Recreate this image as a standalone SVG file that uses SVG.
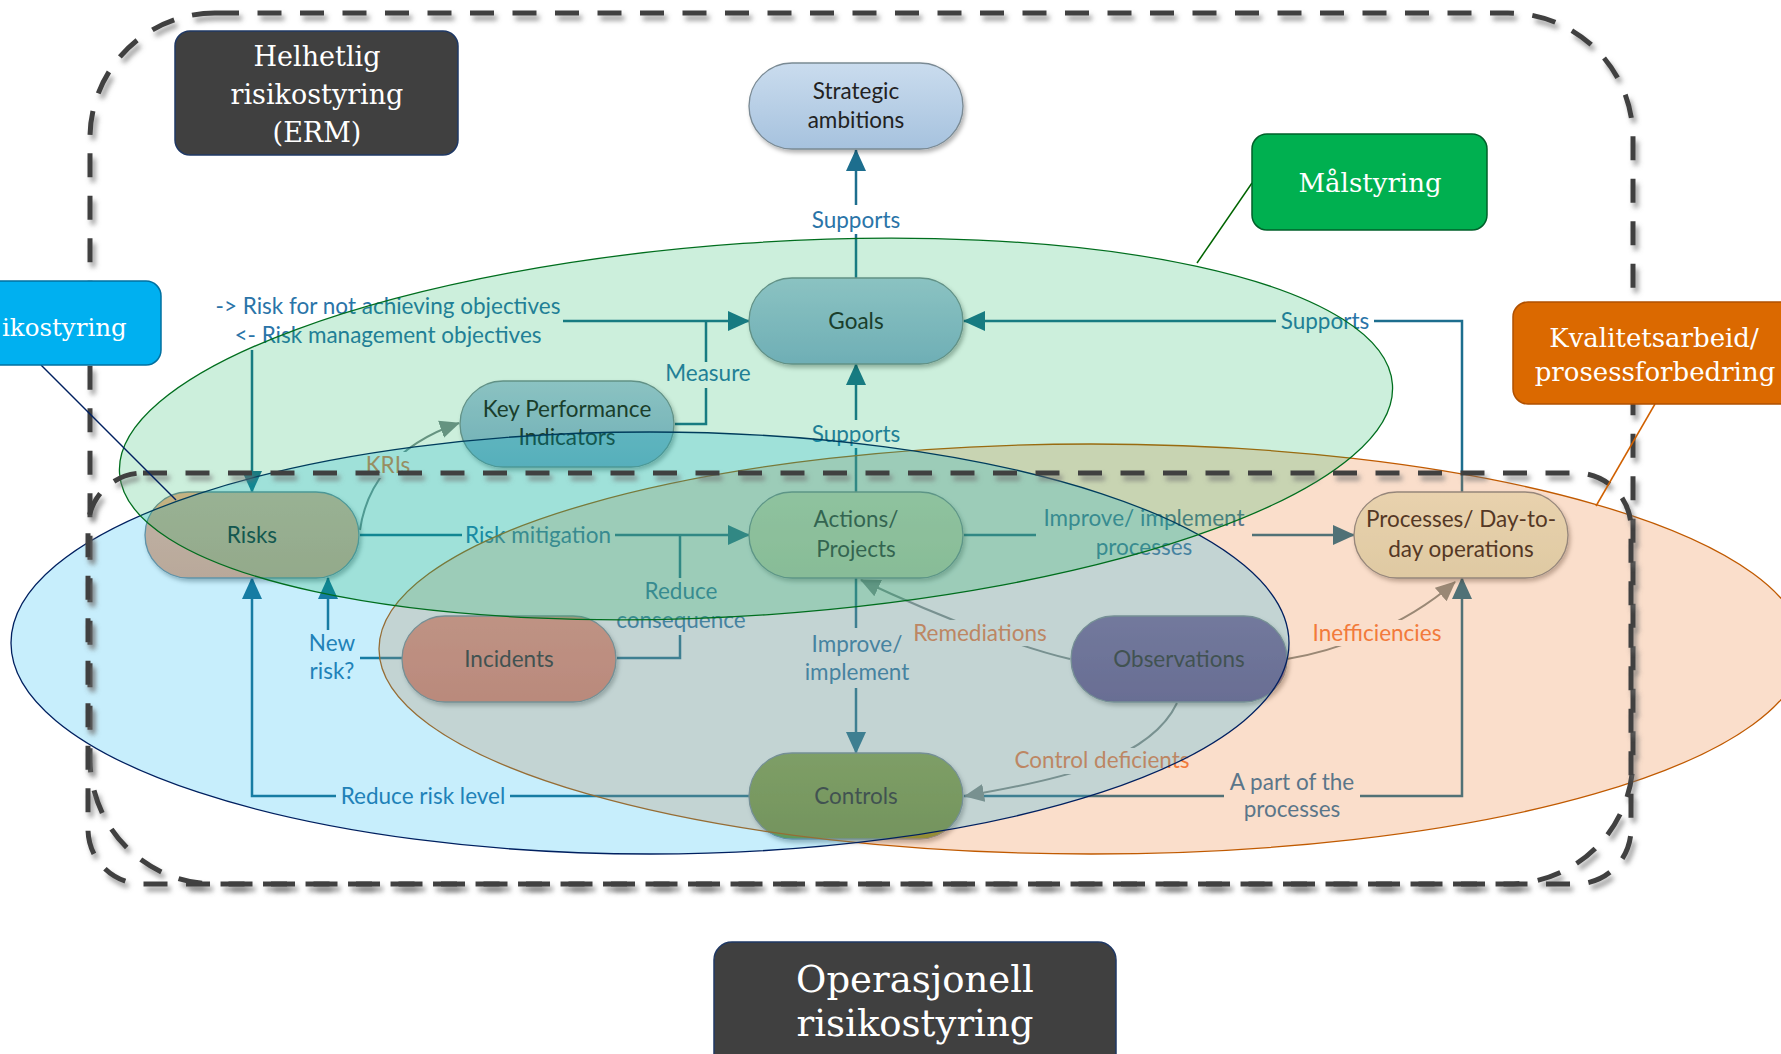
<svg xmlns="http://www.w3.org/2000/svg" width="1781" height="1054" viewBox="0 0 1781 1054">
<defs>
<style>
.node rect{stroke:#7a8a94;stroke-width:1.3;filter:url(#nsh)}
.nt{font-family:Lato,'Noto Sans',sans-serif;font-size:22.5px;fill:#222222;text-anchor:middle}
.cl{fill:none;stroke:#1d6e8e;stroke-width:2.5}
.cg{fill:none;stroke:#7f8d8d;stroke-width:2}
.lb{font-family:Lato,'Noto Sans',sans-serif;font-size:22.5px;fill:#2a74a8;text-anchor:middle}
.lo{font-family:Lato,'Noto Sans',sans-serif;font-size:22.5px;fill:#f47a40;text-anchor:middle}
.bg{fill:#ffffff}
.dash{fill:none;stroke:#404040;stroke-width:5;stroke-dasharray:24 18.5;filter:url(#dsh)}
.tag text{font-family:'DejaVu Serif','Liberation Serif',serif;fill:#ffffff;text-anchor:middle}
.ell{stroke-width:1.3}
</style>
<filter id="nsh" x="-10%" y="-10%" width="125%" height="140%"><feDropShadow dx="2" dy="3" stdDeviation="2" flood-color="#000" flood-opacity="0.3"/></filter>
<filter id="dsh" x="-5%" y="-5%" width="110%" height="110%"><feDropShadow dx="3" dy="5" stdDeviation="2.5" flood-color="#707070" flood-opacity="0.7"/></filter>
<marker id="at" markerUnits="userSpaceOnUse" markerWidth="22" markerHeight="22" viewBox="0 0 22 22" refX="21" refY="11" orient="auto-start-reverse"><path d="M0,1 L22,11 L0,21 z" fill="#1d6e8e"/></marker>
<marker id="ag" markerUnits="userSpaceOnUse" markerWidth="20" markerHeight="20" viewBox="0 0 20 20" refX="19" refY="10" orient="auto"><path d="M0,1 L20,10 L0,19 z" fill="#7f8d8d"/></marker>
<linearGradient id="gStrat" x1="0" y1="0" x2="0" y2="1"><stop offset="0" stop-color="#cadcee"/><stop offset="1" stop-color="#a6c2de"/></linearGradient>
<linearGradient id="gGoal" x1="0" y1="0" x2="0" y2="1"><stop offset="0" stop-color="#aec8df"/><stop offset="1" stop-color="#8bafcf"/></linearGradient>
<linearGradient id="gRisk" x1="0" y1="0" x2="0" y2="1"><stop offset="0" stop-color="#f5b490"/><stop offset="1" stop-color="#eea682"/></linearGradient>
<linearGradient id="gAct" x1="0" y1="0" x2="0" y2="1"><stop offset="0" stop-color="#e4eac8"/><stop offset="1" stop-color="#d6ddb8"/></linearGradient>
<linearGradient id="gProc" x1="0" y1="0" x2="0" y2="1"><stop offset="0" stop-color="#e8efd8"/><stop offset="1" stop-color="#dbe4c9"/></linearGradient>
<linearGradient id="gInc" x1="0" y1="0" x2="0" y2="1"><stop offset="0" stop-color="#f89078"/><stop offset="1" stop-color="#f0806a"/></linearGradient>
<linearGradient id="gObs" x1="0" y1="0" x2="0" y2="1"><stop offset="0" stop-color="#7664a2"/><stop offset="1" stop-color="#655192"/></linearGradient>
<linearGradient id="gCtl" x1="0" y1="0" x2="0" y2="1"><stop offset="0" stop-color="#8aa446"/><stop offset="1" stop-color="#789236"/></linearGradient>
</defs>
<rect width="1781" height="1054" fill="#ffffff"/>

<g id="connectors">
<path class="cl" d="M856,278 V150" marker-end="url(#at)"/>
<path class="cl" d="M856,492 V364" marker-end="url(#at)"/>
<path class="cl" d="M252,492 V321 H749" marker-start="url(#at)" marker-end="url(#at)"/>
<path class="cl" d="M675,424 H706 V321"/>
<path class="cg" d="M360,530 C366,488 392,446 459,423" marker-end="url(#ag)"/>
<path class="cl" d="M360,535 H749" marker-end="url(#at)"/>
<path class="cl" d="M617,658 H680 V535"/>
<path class="cl" d="M403,658 H328 V578" marker-end="url(#at)"/>
<path class="cl" d="M749,796 H252 V578" marker-end="url(#at)"/>
<path class="cl" d="M856,578 V753" marker-end="url(#at)"/>
<path class="cl" d="M964,535 H1354" marker-end="url(#at)"/>
<path class="cl" d="M1462,492 V321 H964" marker-end="url(#at)"/>
<path class="cl" d="M964,796 H1462 V578" marker-end="url(#at)"/>
<path class="cg" d="M1070,659 C1030,650 950,622 861,580" marker-end="url(#ag)"/>
<path class="cg" d="M1287,659 C1330,652 1400,630 1455,582" marker-end="url(#ag)"/>
<path class="cg" d="M1177,703 C1150,760 1060,780 965,796" marker-end="url(#ag)"/>

<rect class="bg" x="809" y="205" width="94" height="29"/>
<rect class="bg" x="809" y="420" width="94" height="28"/>
<rect class="bg" x="212" y="296" width="351" height="54"/>
<rect class="bg" x="662" y="362" width="92" height="26"/>
<rect class="bg" x="364" y="452" width="48" height="26"/>
<rect class="bg" x="462" y="522" width="153" height="28"/>
<rect class="bg" x="612" y="578" width="139" height="57"/>
<rect class="bg" x="304" y="630" width="56" height="55"/>
<rect class="bg" x="336" y="783" width="174" height="26"/>
<rect class="bg" x="798" y="628" width="118" height="60"/>
<rect class="bg" x="1036" y="505" width="216" height="55"/>
<rect class="bg" x="1276" y="308" width="98" height="26"/>
<rect class="bg" x="1224" y="772" width="136" height="50"/>
<rect class="bg" x="908" y="620" width="145" height="26"/>
<rect class="bg" x="1307" y="620" width="141" height="26"/>
<rect class="bg" x="1011" y="748" width="183" height="26"/>

<text class="lb" x="856" y="228">Supports</text>
<text class="lb" x="856" y="442">Supports</text>
<text class="lb" x="388" y="314">-&gt; Risk for not achieving objectives</text>
<text class="lb" x="388" y="343">&lt;- Risk management objectives</text>
<text class="lb" x="708" y="381">Measure</text>
<text class="lo" x="388" y="473">KRIs</text>
<text class="lb" x="538" y="543">Risk mitigation</text>
<text class="lb" x="681" y="599">Reduce</text>
<text class="lb" x="681" y="628">consequence</text>
<text class="lb" x="332" y="651">New</text>
<text class="lb" x="332" y="679">risk?</text>
<text class="lb" x="423" y="804">Reduce risk level</text>
<text class="lb" x="857" y="652">Improve/</text>
<text class="lb" x="857" y="680">implement</text>
<text class="lb" x="1144" y="526">Improve/ implement</text>
<text class="lb" x="1144" y="555">processes</text>
<text class="lb" x="1325" y="329">Supports</text>
<text class="lb" x="1292" y="790">A part of the</text>
<text class="lb" x="1292" y="817">processes</text>
<text class="lo" x="980" y="641">Remediations</text>
<text class="lo" x="1377" y="641">Inefficiencies</text>
<text class="lo" x="1102" y="768">Control deficients</text>
</g>

<g id="node-strategic" class="node"><rect x="749" y="63" width="214" height="86" rx="43" fill="url(#gStrat)"/><text class="nt" x="856" y="99">Strategic</text><text class="nt" x="856" y="128">ambitions</text></g>
<g id="node-goals" class="node"><rect x="749" y="278" width="214" height="86" rx="43" fill="url(#gGoal)"/><text class="nt" x="856" y="329">Goals</text></g>
<g id="node-kpi" class="node"><rect x="460" y="381" width="214" height="86" rx="43" fill="url(#gGoal)"/><text class="nt" x="567" y="417">Key Performance</text><text class="nt" x="567" y="445">Indicators</text></g>
<g id="node-risks" class="node"><rect x="145" y="492" width="214" height="86" rx="43" fill="url(#gRisk)"/><text class="nt" x="252" y="543">Risks</text></g>
<g id="node-actions" class="node"><rect x="749" y="492" width="214" height="86" rx="43" fill="url(#gAct)"/><text class="nt" x="856" y="527">Actions/</text><text class="nt" x="856" y="557">Projects</text></g>
<g id="node-processes" class="node"><rect x="1354" y="492" width="214" height="86" rx="43" fill="url(#gProc)"/><text class="nt" x="1461" y="527">Processes/ Day-to-</text><text class="nt" x="1461" y="557">day operations</text></g>
<g id="node-incidents" class="node"><rect x="402" y="616" width="214" height="86" rx="43" fill="url(#gInc)"/><text class="nt" x="509" y="667">Incidents</text></g>
<g id="node-observations" class="node"><rect x="1071" y="616" width="216" height="86" rx="43" fill="url(#gObs)"/><text class="nt" x="1179" y="667">Observations</text></g>
<g id="node-controls" class="node"><rect x="749" y="753" width="214" height="86" rx="43" fill="url(#gCtl)"/><text class="nt" x="856" y="804">Controls</text></g>

<g id="regions">
<ellipse id="region-kvalitet" class="ell" cx="1091" cy="649" rx="712" ry="205" fill="#ed7d31" fill-opacity="0.25" stroke="#c05a00"/>
<ellipse id="region-operasjonell" class="ell" cx="650" cy="643" rx="639" ry="211" fill="#00b0f0" fill-opacity="0.22" stroke="#002060"/>
<ellipse id="region-mal" class="ell" cx="756" cy="429" rx="638" ry="186" transform="rotate(-4 756 429)" fill="#00b050" fill-opacity="0.2" stroke="#006e1e"/>
</g>

<g id="boundaries">
<rect id="boundary-erm" class="dash" x="90" y="13" width="1543" height="871" rx="125"/>
<rect id="boundary-operational" class="dash" x="88" y="473" width="1543" height="411" rx="55"/>
</g>

<g id="callouts">
<line x1="1252" y1="183" x2="1197" y2="263" stroke="#006400" stroke-width="1.5"/>
<line x1="1655" y1="404" x2="1596" y2="506" stroke="#d06000" stroke-width="1.5"/>
<line x1="41" y1="365" x2="176" y2="500" stroke="#002060" stroke-width="1.5"/>
</g>

<g id="tag-erm" class="tag"><rect x="175" y="31" width="283" height="124" rx="15" fill="#404040" stroke="#1f3864" stroke-width="1.5"/><text x="317" y="66" font-size="27">Helhetlig</text><text x="317" y="104" font-size="27">risikostyring</text><text x="317" y="142" font-size="27">(ERM)</text></g>
<g id="tag-mal" class="tag"><rect x="1252" y="134" width="235" height="96" rx="15" fill="#00b050" stroke="#00602a" stroke-width="1.5"/><text x="1370" y="192" font-size="26">Målstyring</text></g>
<g id="tag-kvalitet" class="tag"><rect x="1513" y="302" width="300" height="102" rx="15" fill="#db6900" stroke="#b05000" stroke-width="1.5"/><text x="1654" y="347" font-size="26">Kvalitetsarbeid/</text><text x="1655" y="381" font-size="26">prosessforbedring</text></g>
<g id="tag-risiko" class="tag"><rect x="-20" y="281" width="181" height="84" rx="15" fill="#00b0f0" stroke="#0070a0" stroke-width="1.5"/><text x="2" y="336" font-size="24.5" style="text-anchor:start">ikostyring</text></g>
<g id="tag-operasjonell" class="tag"><rect x="714" y="942" width="402" height="140" rx="18" fill="#404040" stroke="#1f3864" stroke-width="1.5"/><text x="915" y="992" font-size="37">Operasjonell</text><text x="915" y="1036" font-size="37">risikostyring</text></g>
</svg>
